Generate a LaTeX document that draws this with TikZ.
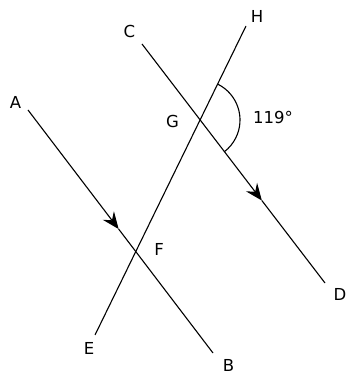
\documentclass[tikz,border=0pt]{standalone}
\usepackage{fontspec}
\setmainfont{DejaVu Sans}
\usetikzlibrary{arrows.meta,calc}
\tikzset{
  ln/.style={line width=1.1pt, black},
  tip/.style={line width=1.1pt, black, -{Stealth[length=17pt,width=14pt,inset=6pt]}},
  lbl/.style={inner sep=0pt, font=\fontsize{16.5}{18}\selectfont}
}
\begin{document}
\begin{tikzpicture}[x=1pt,y=1pt]
\useasboundingbox (0,0) rectangle (347,375);
\coordinate (A) at (28,265);
\coordinate (B) at (213,22);
\coordinate (C) at (142,331);
\coordinate (D) at (325,92);
\coordinate (E) at (95,40);
\coordinate (H) at (246,349);
\coordinate (G) at (200,255);
\coordinate (F) at (135,125);
\coordinate (T1) at ($(A)!0.49!(B)$);
\coordinate (T2) at ($(C)!0.655!(D)$);
\draw[tip] (A) -- (T1);
\draw[ln] (T1) -- (B);
\draw[tip] (C) -- (T2);
\draw[ln] (T2) -- (D);
\draw[ln] (E) -- (H);
\draw[ln] ($(G)+(63.4:40)$) arc[start angle=63.4, end angle=-52.5, radius=40];
\node[lbl] (lA) at (15.5,272.5) {A};
\node[lbl] (lB) at (228.5,10) {B};
\node[lbl] (lC) at (129.5,344) {C};
\node[lbl] (lD) at (340,81) {D};
\node[lbl] (lE) at (89,26.5) {E};
\node[lbl] (lF) at (159,125.5) {F};
\node[lbl] (lG) at (172.5,254) {G};
\node[lbl] (lH) at (257,358.5) {H};
\node[lbl] (ang) at (273,258) {119°};
\end{tikzpicture}
\end{document}
